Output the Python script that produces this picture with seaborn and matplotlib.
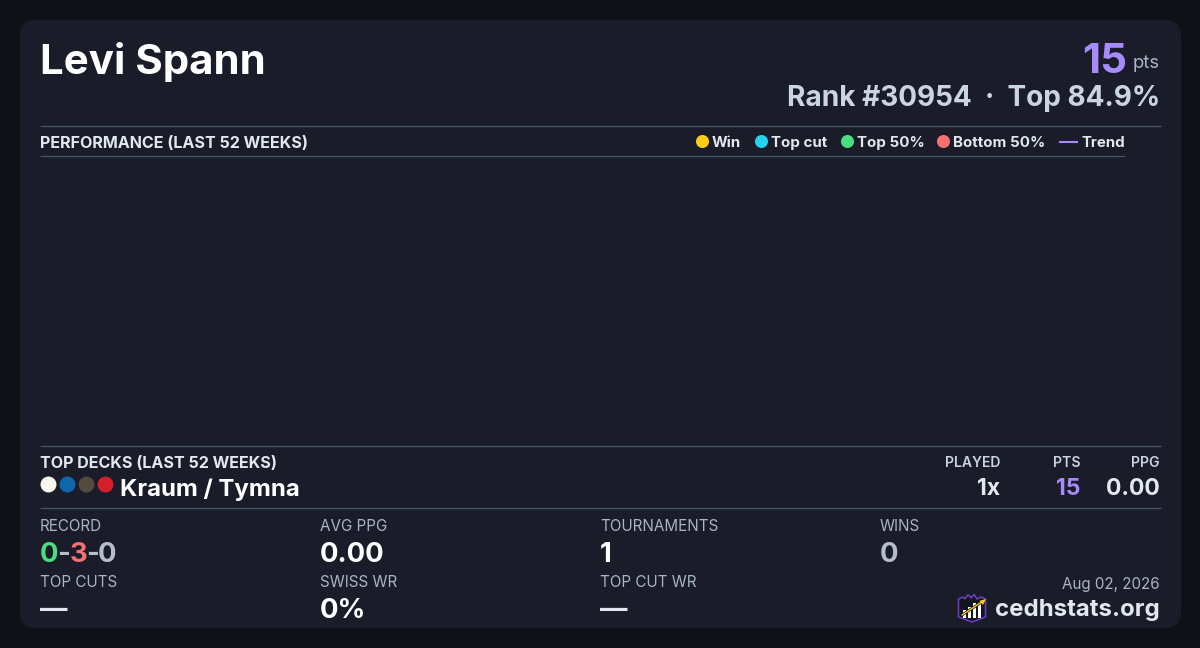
import matplotlib
matplotlib.use("Agg")
import matplotlib.pyplot as plt
import seaborn as sns
import pandas as pd
from matplotlib.patches import FancyBboxPatch, Polygon, Rectangle

# datos de la tarjeta
player = "Levi Spann"
points = "15"
rank_text = "Rank #30954"
top_text = "Top 84.9%"
legend_labels = ["Win", "Top cut", "Top 50%", "Bottom 50%"]
legend_colors = ["#facc15", "#22d3ee", "#4ade80", "#f87171"]
deck_name = "Kraum / Tymna"
deck_pips = ["W", "U", "B", "R"]
pip_colors = ["#f8f8f0", "#0f68ab", "#544a3f", "#d31f2a"]
deck_headers = ["PLAYED", "PTS", "PPG"]
deck_values = ["1x", "15", "0.00"]
record_parts = ["0", "-", "3", "-", "0"]
record_colors = ["#4ade80", "#b4bfce", "#f87171", "#b4bfce", "#b4bfce"]
stat_labels = ["RECORD", "AVG PPG", "TOURNAMENTS", "WINS", "TOP CUTS", "SWISS WR", "TOP CUT WR"]
stat_values = [None, "0.00", "1", "0", "—", "0%", "—"]

BG = "#0f1116"
CARD = "#1a1d29"
LINE = "#475569"
WHITE = "#ffffff"
LIGHT = "#e2e8f0"
MUTED = "#cbd5e1"
GREY = "#a9b4c6"
SOFT = "#b4bfce"
PURPLE = "#a78bfa"

sns.set_theme(style="white")
plt.rcParams["font.family"] = ["Inter", "DejaVu Sans"]

fig = plt.figure(figsize=(12, 6.48), dpi=100, facecolor=BG)
ax = fig.add_axes([0, 0, 1, 1])
ax.set_xlim(0, 1200)
ax.set_ylim(648, 0)
ax.axis("off")


def px(size):
    return size * 0.72


def label(x, y, s, size, color=LIGHT, weight="normal", ha="left"):
    return ax.text(x, y, s, fontsize=px(size), color=color, fontweight=weight,
                   ha=ha, va="baseline")


ax.add_patch(FancyBboxPatch((20 + 16, 20 + 16), 1161 - 32, 608 - 32,
                            boxstyle="round,pad=16,rounding_size=16",
                            fc=CARD, ec="none", zorder=0))

# cabecera
label(40, 74, player, 42, WHITE, 700)
label(1127, 73, points, 42, PURPLE, 700, ha="right")
label(1160, 68, "pts", 18.5, GREY, ha="right")
label(1160, 106, f"{rank_text}  ·  {top_text}", 28, MUTED, 700, ha="right")

# separadores
for x0, x1, y in [(40, 1161, 126), (40, 1125, 156), (40, 1161, 446), (40, 1161, 508)]:
    ax.plot([x0, x1], [y, y], color=LINE, lw=0.9, solid_capstyle="butt")

# leyenda
label(40, 148, "PERFORMANCE (LAST 52 WEEKS)", 16.1, LIGHT, 700)
legend_df = pd.DataFrame({"x": [702.5, 761.5, 847.5, 943.5], "y": [141.5] * 4, "k": legend_labels})
sns.scatterplot(data=legend_df, x="x", y="y", hue="k", palette=legend_colors, s=88,
                linewidth=0, legend=False, ax=ax)
for x, s in zip([712, 771, 857, 953], legend_labels):
    label(x, 147, s, 15.1, LIGHT, 700)
ax.plot([1059, 1078], [141.5, 141.5], color=PURPLE, lw=1.5, solid_capstyle="butt")
label(1081, 147, "Trend", 15, LIGHT, 700)

# mazos
label(40, 468, "TOP DECKS (LAST 52 WEEKS)", 16.1, LIGHT, 700)
pip_df = pd.DataFrame({"x": [48.5, 67.5, 86.5, 105.5], "y": [484.5] * 4, "k": deck_pips})
sns.scatterplot(data=pip_df, x="x", y="y", hue="k", palette=pip_colors, s=132,
                linewidth=0, legend=False, ax=ax)
label(120, 496, deck_name, 24, WHITE, 700)
for x, h, v, c in zip([1000, 1080, 1160], deck_headers, deck_values, [LIGHT, PURPLE, LIGHT]):
    label(x, 467, h, 14, MUTED, 600, ha="right")
    label(x, 495, v, 23, c, 700, ha="right")

# estadisticas
stat_x = [40, 320, 600, 880, 40, 320, 600]
stat_y = [531, 531, 531, 531, 587, 587, 587]
for x, y, s, v in zip(stat_x, stat_y, stat_labels, stat_values):
    label(x, y, s, 15.2, GREY)
    if v is not None:
        label(x, y + 31, v, 27.5, SOFT if s == "WINS" else (LIGHT if v == "—" else WHITE), 700)

# record 0-3-0 por partes
x = 40
for s, c in zip(record_parts, record_colors):
    t = label(x, 562, s, 27.5, c, 700)
    fig.canvas.draw()
    x += t.get_window_extent().width - 1
label(1160, 589, "Aug 02, 2026", 15.2, GREY, ha="right")
label(1160, 616, "cedhstats.org", 24, LIGHT, 700, ha="right")

# logo
ax.add_patch(Polygon([(958.5, 599), (963, 597), (965, 599), (968, 594.5), (971, 598), (974, 594.5),
                      (977, 599), (981, 597), (985.5, 599), (985.5, 617), (972, 622), (958.5, 617)],
                     closed=True, fc="#14151f", ec="#6d3fc4", lw=1.1))
for bx, h0 in zip([963, 968, 973, 978], [610, 607, 603, 603]):
    ax.add_patch(Rectangle((bx, h0), 3, 618 - h0, fc=WHITE, ec="none", zorder=3))
ax.plot([962, 984], [615, 600.5], color="#14151f", lw=2, zorder=4)
ax.plot([962, 984], [615, 600.5], color="#facc15", lw=1, zorder=5)
ax.add_patch(Polygon([(986, 599), (979.5, 600.8), (983, 605)], closed=True, fc="#facc15", ec="none", zorder=6))

fig.savefig("out.png", dpi=100, facecolor=BG)
